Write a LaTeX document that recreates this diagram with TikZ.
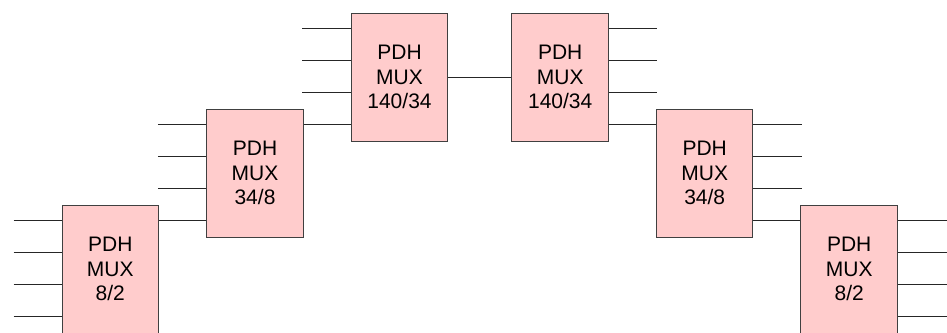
\documentclass[tikz,border=0pt]{standalone}
\usepackage{fontspec}
\setmainfont{Liberation Sans}
\usetikzlibrary{calc}
\definecolor{boxfill}{HTML}{FFCCCC}
\tikzset{
  mux/.style={draw=black!75, fill=boxfill, line width=1pt, minimum width=96.5pt, minimum height=128pt,
    inner sep=0pt, align=center, font=\fontsize{21}{24.2}\selectfont},
  wire/.style={draw=black!85, line width=1pt}
}
\begin{document}
\begin{tikzpicture}[x=1pt,y=-1pt]
\useasboundingbox (0,0) rectangle (947,332);
\node[mux] (B1) at (110.3,269) {PDH\\MUX\\8/2};
\node[mux] (B2) at (255,173) {PDH\\MUX\\34/8};
\node[mux] (B3) at (399.5,77) {PDH\\MUX\\140/34};
\node[mux] (B4) at (560.2,77) {PDH\\MUX\\140/34};
\node[mux] (B5) at (704.7,173) {PDH\\MUX\\34/8};
\node[mux] (B6) at (849.2,269) {PDH\\MUX\\8/2};
% inputs of B1
\foreach \d in {16,48,80,112}{
  \coordinate (L1) at ($(B1.north west)+(-48,\d)$);
  \draw[wire] (L1) -- ($(B1.north west)+(0,\d)$);
}
% inputs of B2
\foreach \d in {16,48,80}{
  \coordinate (L2) at ($(B2.north west)+(-48.5,\d)$);
  \draw[wire] (L2) -- ($(B2.north west)+(0,\d)$);
}
% inputs of B3
\foreach \d in {16,48,80}{
  \coordinate (L3) at ($(B3.north west)+(-48.5,\d)$);
  \draw[wire] (L3) -- ($(B3.north west)+(0,\d)$);
}
% outputs of B4
\foreach \d in {16,48,80}{
  \coordinate (R4) at ($(B4.north east)+(48.5,\d)$);
  \draw[wire] ($(B4.north east)+(0,\d)$) -- (R4);
}
% outputs of B5
\foreach \d in {16,48,80}{
  \coordinate (R5) at ($(B5.north east)+(48.5,\d)$);
  \draw[wire] ($(B5.north east)+(0,\d)$) -- (R5);
}
% outputs of B6
\foreach \d in {16,48,80,112}{
  \coordinate (R6) at ($(B6.north east)+(49,\d)$);
  \draw[wire] ($(B6.north east)+(0,\d)$) -- (R6);
}
% links between boxes
\draw[wire] ($(B1.north east)+(0,16)$) -- ($(B2.north west)+(0,112)$);
\draw[wire] ($(B2.north east)+(0,16)$) -- ($(B3.north west)+(0,112)$);
\draw[wire] (B3.east) -- (B4.west);
\draw[wire] ($(B4.north east)+(0,112)$) -- ($(B5.north west)+(0,16)$);
\draw[wire] ($(B5.north east)+(0,112)$) -- ($(B6.north west)+(0,16)$);
\end{tikzpicture}
\end{document}
